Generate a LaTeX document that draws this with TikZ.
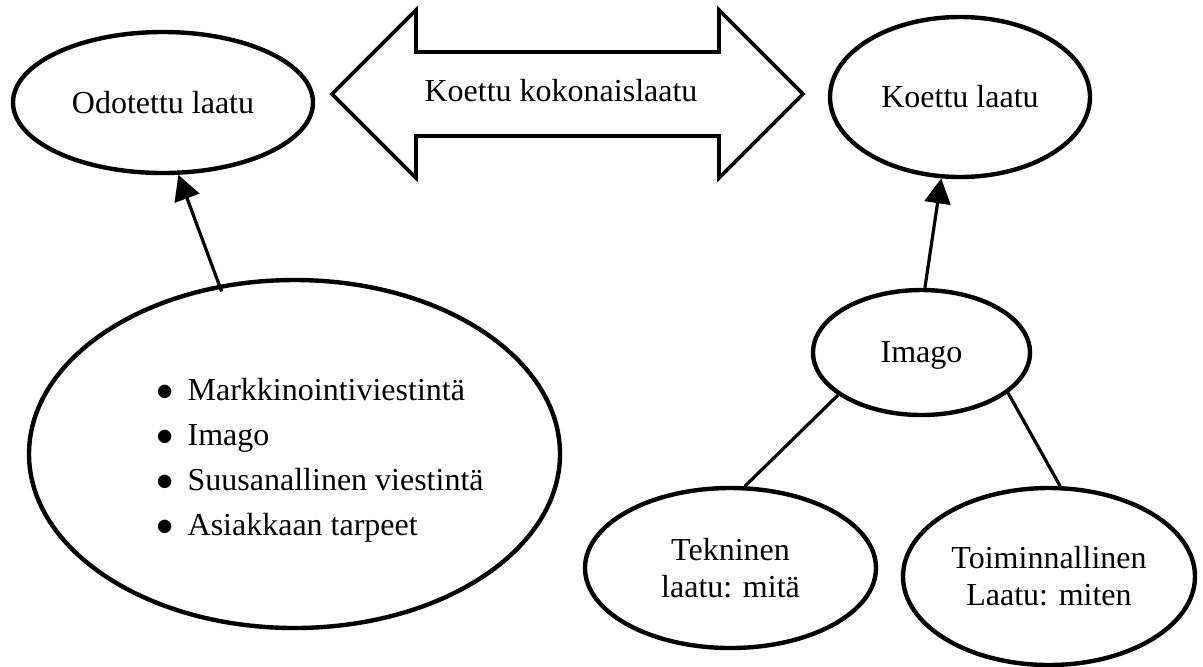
\documentclass[tikz,border=0pt]{standalone}
\usepackage{fontspec}
\setmainfont{Liberation Serif}
\usetikzlibrary{shapes.geometric,arrows.meta}

\begin{document}
\begin{tikzpicture}[x=0.5pt,y=-0.5pt,
    font=\fontsize{16}{18.5}\selectfont,
    soikio/.style={draw,ellipse,line width=2.2pt,inner sep=0pt,align=center},
    yhteys/.style={line width=1.6pt},
    nuoli/.style={yhteys,-{Triangle[length=12.5pt,width=13pt]}}]
    \useasboundingbox (0,0) rectangle (1203,666);
    \node[soikio,minimum width=150pt,minimum height=70.5pt] (odotettu) at (163,102.5) {Odotettu laatu};
    \node[soikio,minimum width=265.5pt,minimum height=174pt] (tekijat) at (294.5,454) {};
    \node[align=left,inner sep=0pt,font=\fontsize{16}{22.5}\selectfont] (lista) at (320,460.5)
        {$\bullet$\hspace{7pt}Markkinointiviestintä\\ $\bullet$\hspace{7pt}Imago\\ $\bullet$\hspace{7pt}Suusanallinen viestintä\\ $\bullet$\hspace{7pt}Asiakkaan tarpeet};
    \node[soikio,minimum width=130pt,minimum height=80pt] (koettu) at (960,97) {Koettu laatu};
    \node[soikio,minimum width=108.5pt,minimum height=62.5pt,text depth=0pt] (imago) at (921.5,352.5) {Imago};
    \node[soikio,minimum width=145.5pt,minimum height=80pt] (tekninen) at (730.5,568) {Tekninen\\laatu: mitä};
    \node[soikio,minimum width=146pt,minimum height=88.5pt] (toiminnallinen) at (1049,576.5) {Toiminnallinen\\Laatu: miten};
    % kaksipainen nuoli
    \draw[line width=1.9pt] (332,94) -- (416,10) -- (416,52) -- (719,52) -- (719,10) -- (803,94)
        -- (719,178) -- (719,136) -- (416,136) -- (416,178) -- cycle;
    \node (kokonais) at (561,91) {Koettu kokonaislaatu};
    \draw[nuoli,shorten <=-3.5pt] (tekijat.114) -- (odotettu.-78);
    \draw[nuoli] (imago.87) -- (koettu.-103);
    \draw[yhteys] (imago.-153) -- (tekninen.80);
    \draw[yhteys] (imago.-25) -- (toiminnallinen.83);
\end{tikzpicture}
\end{document}
